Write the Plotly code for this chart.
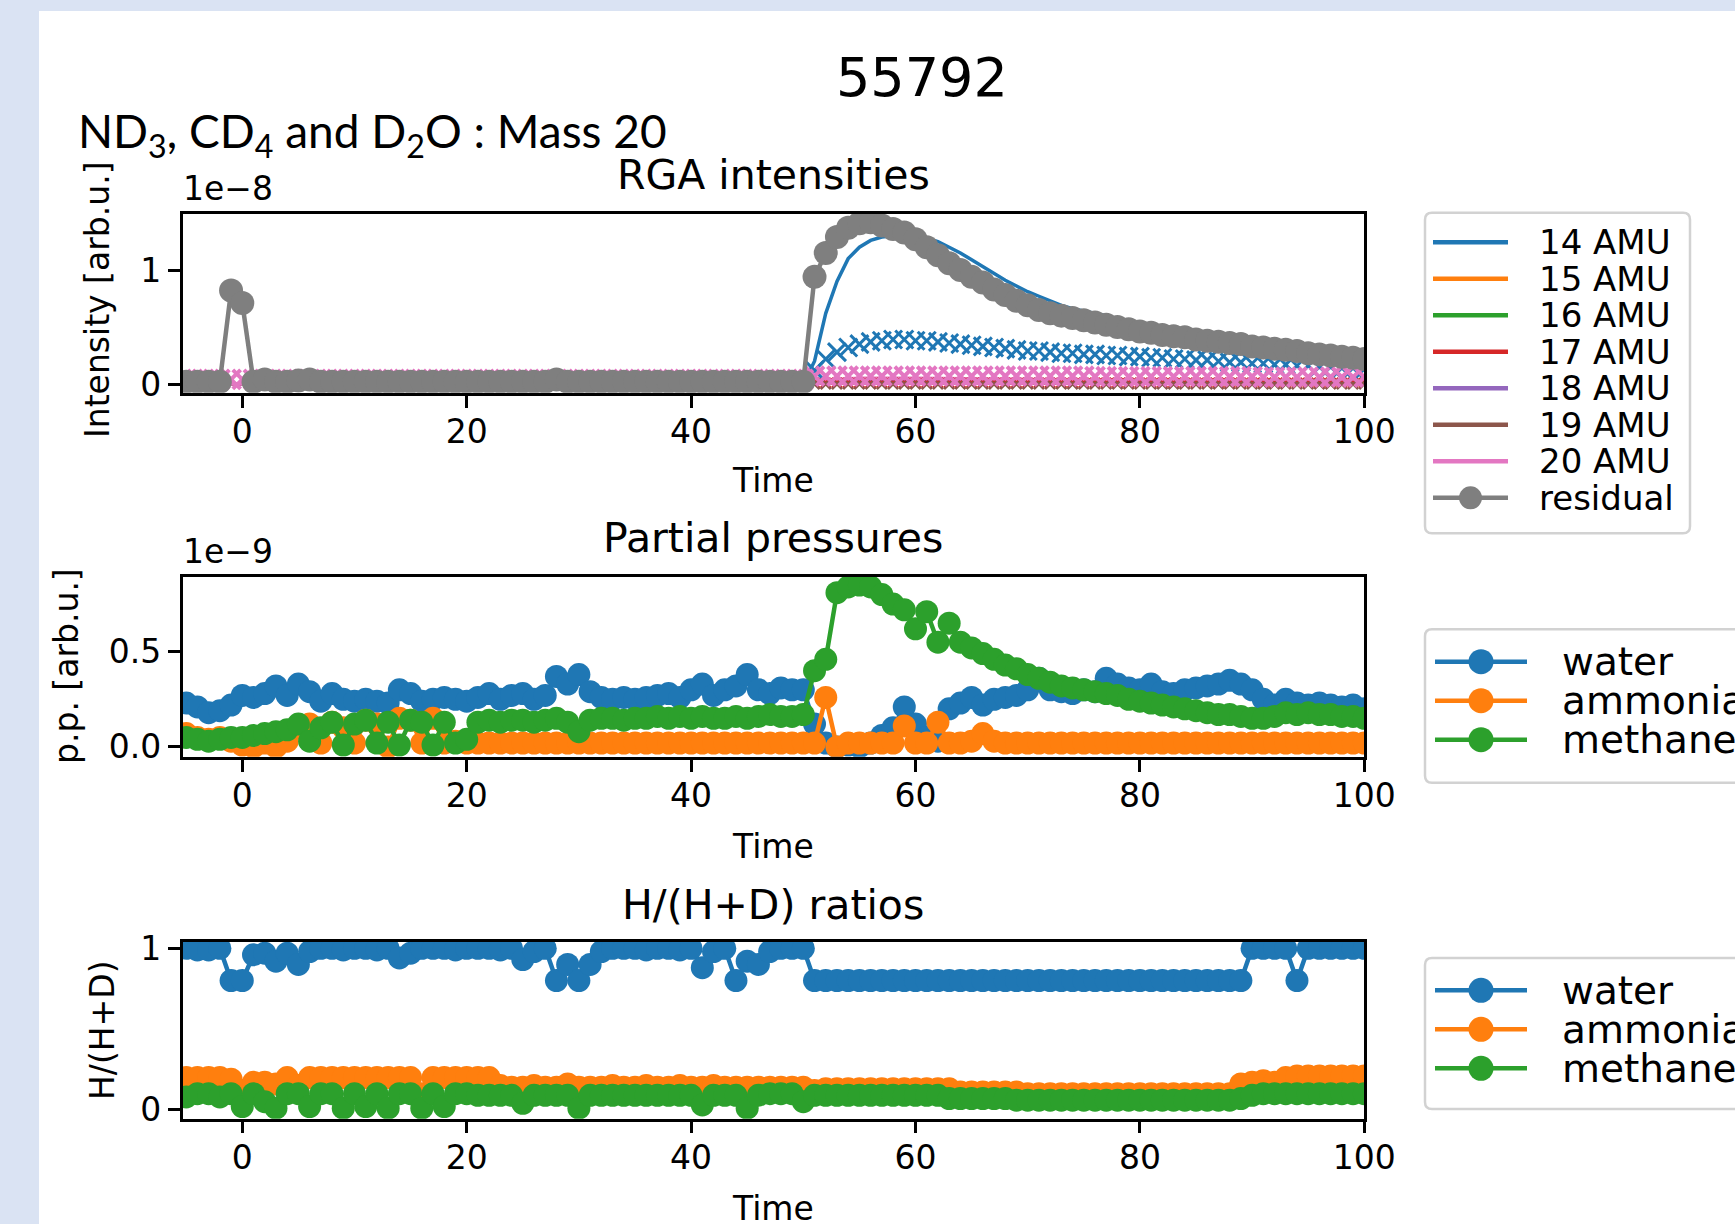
import plotly.graph_objects as go

# ---------------- data ----------------
TIME = list(range(-5, 101))          # time axis, 106 samples
TIME_SHOT = list(range(51, 101))     # samples after gas injection
LINE_T = [-5, 50, 51, 55, 60, 70, 80, 90, 100]

# RGA intensities (units of 1e-8)
RESIDUAL = [0.02, 0.02, 0.02, 0.02, 0.82, 0.71, 0.02, 0.04, 0.02, 0.02,
            0.03, 0.04, 0.02, 0.02, 0.02, 0.02, 0.02, 0.02, 0.02, 0.02,
            0.02, 0.02, 0.02, 0.02, 0.02, 0.02, 0.02, 0.02, 0.02, 0.02,
            0.02, 0.02, 0.02, 0.04, 0.02, 0.02, 0.02, 0.02, 0.02, 0.02,
            0.02, 0.02, 0.02, 0.02, 0.02, 0.02, 0.02, 0.02, 0.02, 0.02,
            0.02, 0.02, 0.02, 0.02, 0.02, 0.02, 0.94, 1.15, 1.29, 1.37,
            1.41, 1.42, 1.39, 1.36, 1.33, 1.27, 1.20, 1.13, 1.06, 1.00,
            0.94, 0.89, 0.83, 0.78, 0.73, 0.69, 0.65, 0.62, 0.60, 0.58,
            0.56, 0.54, 0.52, 0.50, 0.48, 0.46, 0.45, 0.43, 0.42, 0.41,
            0.39, 0.38, 0.37, 0.36, 0.35, 0.33, 0.32, 0.31, 0.30, 0.29,
            0.27, 0.26, 0.25, 0.24, 0.23, 0.22]
AMU14_LINE = [0.0] * 50 + [
            0.0, 0.0, 0.0, 0.0, 0.0, 0.0, 0.20, 0.62, 0.90, 1.10,
            1.20, 1.26, 1.29, 1.30, 1.30, 1.30, 1.28, 1.25, 1.20, 1.15,
            1.09, 1.03, 0.97, 0.91, 0.86, 0.81, 0.77, 0.73, 0.69, 0.66,
            0.64, 0.62, 0.60, 0.57, 0.54, 0.51, 0.48, 0.46, 0.44, 0.42,
            0.40, 0.38, 0.36, 0.35, 0.34, 0.32, 0.31, 0.30, 0.29, 0.28,
            0.26, 0.25, 0.24, 0.23, 0.22, 0.21]
AMU14_MEAS = [0.12, 0.22, 0.28, 0.32, 0.35, 0.37, 0.38, 0.39, 0.39, 0.38,
              0.38, 0.37, 0.36, 0.35, 0.34, 0.33, 0.32, 0.31, 0.30, 0.29,
              0.29, 0.28, 0.27, 0.27, 0.26, 0.26, 0.25, 0.25, 0.24, 0.24,
              0.23, 0.23, 0.22, 0.22, 0.21, 0.21, 0.20, 0.19, 0.19, 0.18,
              0.18, 0.17, 0.17, 0.16, 0.16, 0.15, 0.15, 0.14, 0.14, 0.13]
AMU20_MEAS = [0.04] * 56 + [0.07] * 25 + [0.065] * 15 + [0.06] * 10
AMU17_MEAS = [0.01] * 50
AMU19_MEAS = [0.0] * 50
AMU15_LINE = [0.0, 0.0, 0.01, 0.02, 0.02, 0.02, 0.01, 0.01, 0.01]
AMU16_LINE = [0.0, 0.0, 0.02, 0.03, 0.03, 0.02, 0.02, 0.01, 0.01]
AMU17_LINE = [0.0, 0.0, 0.01, 0.02, 0.02, 0.01, 0.01, 0.01, 0.01]
AMU18_LINE = [0.0, 0.0, 0.02, 0.03, 0.03, 0.02, 0.02, 0.02, 0.01]
AMU19_LINE = [0.0, 0.0, 0.01, 0.01, 0.01, 0.01, 0.01, 0.0, 0.0]
AMU20_LINE = [0.0, 0.0, 0.03, 0.05, 0.05, 0.04, 0.03, 0.03, 0.02]

# Partial pressures (units of 1e-9)
WATER_PP = [0.23, 0.21, 0.18, 0.19, 0.22, 0.27, 0.26, 0.28, 0.32, 0.27,
            0.33, 0.29, 0.24, 0.28, 0.25, 0.24, 0.25, 0.24, 0.23, 0.30,
            0.28, 0.24, 0.25, 0.26, 0.25, 0.24, 0.26, 0.28, 0.25, 0.27,
            0.28, 0.25, 0.27, 0.37, 0.33, 0.38, 0.29, 0.26, 0.25, 0.26,
            0.25, 0.26, 0.27, 0.28, 0.26, 0.30, 0.33, 0.27, 0.30, 0.32,
            0.38, 0.30, 0.28, 0.31, 0.30, 0.30, 0.12, 0.02, 0.00, 0.01,
            0.00, 0.02, 0.06, 0.10, 0.21, 0.12, 0.05, 0.03, 0.20, 0.23,
            0.26, 0.22, 0.25, 0.26, 0.27, 0.30, 0.36, 0.30, 0.29, 0.28,
            0.30, 0.29, 0.36, 0.33, 0.31, 0.30, 0.33, 0.29, 0.28, 0.30,
            0.31, 0.32, 0.33, 0.35, 0.33, 0.30, 0.25, 0.22, 0.25, 0.23,
            0.22, 0.23, 0.22, 0.21, 0.22, 0.20]
AMMONIA_PP = [0.07, 0.05, 0.04, 0.05, 0.03, 0.01, 0.00, 0.02, 0.00, 0.03,
              0.10, 0.12, 0.02, 0.13, 0.10, 0.02, 0.14, 0.12, 0.00, 0.15,
              0.14, 0.02, 0.15, 0.02, 0.03, 0.02, 0.02, 0.02, 0.02, 0.02,
              0.02, 0.02, 0.02, 0.02, 0.02, 0.02, 0.02, 0.02, 0.02, 0.02,
              0.02, 0.02, 0.02, 0.02, 0.02, 0.02, 0.02, 0.02, 0.02, 0.02,
              0.02, 0.02, 0.02, 0.02, 0.02, 0.02, 0.02, 0.26, 0.00, 0.02,
              0.02, 0.02, 0.02, 0.02, 0.11, 0.02, 0.02, 0.13, 0.02, 0.02,
              0.03, 0.07, 0.03, 0.02, 0.02, 0.02, 0.02, 0.02, 0.02, 0.02,
              0.02, 0.02, 0.02, 0.02, 0.02, 0.02, 0.02, 0.02, 0.02, 0.02,
              0.02, 0.02, 0.02, 0.02, 0.02, 0.02, 0.02, 0.02, 0.02, 0.02,
              0.02, 0.02, 0.02, 0.02, 0.02, 0.02]
METHANE_PP = [0.05, 0.04, 0.03, 0.04, 0.05, 0.05, 0.06, 0.07, 0.08, 0.09,
              0.12, 0.03, 0.10, 0.13, 0.01, 0.12, 0.14, 0.02, 0.13, 0.01,
              0.14, 0.13, 0.01, 0.13, 0.02, 0.04, 0.13, 0.14, 0.13, 0.14,
              0.14, 0.13, 0.14, 0.15, 0.13, 0.08, 0.14, 0.15, 0.15, 0.14,
              0.15, 0.15, 0.16, 0.15, 0.16, 0.15, 0.16, 0.15, 0.15, 0.16,
              0.15, 0.16, 0.17, 0.16, 0.16, 0.17, 0.40, 0.46, 0.81, 0.84,
              0.85, 0.84, 0.80, 0.75, 0.72, 0.62, 0.71, 0.55, 0.65, 0.55,
              0.52, 0.49, 0.46, 0.43, 0.41, 0.38, 0.36, 0.34, 0.32, 0.31,
              0.30, 0.29, 0.28, 0.27, 0.25, 0.24, 0.23, 0.22, 0.21, 0.20,
              0.19, 0.18, 0.17, 0.17, 0.16, 0.15, 0.15, 0.16, 0.18, 0.17,
              0.18, 0.17, 0.17, 0.16, 0.16, 0.15]

# H/(H+D) ratios
WATER_HD = [1.0, 0.99, 0.99, 1.0, 0.8, 0.8, 0.96, 0.97, 0.92, 0.97,
            0.9, 0.98, 1.0, 1.0, 0.99, 1.0, 1.0, 0.99, 1.0, 0.94,
            0.97, 1.0, 1.0, 1.0, 0.99, 1.0, 1.0, 1.0, 0.99, 1.0,
            0.93, 0.98, 1.0, 0.8, 0.9, 0.8, 0.9, 0.98, 1.0, 1.0,
            1.0, 0.99, 1.0, 1.0, 0.99, 1.0, 0.88, 0.98, 1.0, 0.8,
            0.92, 0.9, 0.98, 1.0, 1.0, 1.0, 0.8, 0.8, 0.8, 0.8,
            0.8, 0.8, 0.8, 0.8, 0.8, 0.8, 0.8, 0.8, 0.8, 0.8,
            0.8, 0.8, 0.8, 0.8, 0.8, 0.8, 0.8, 0.8, 0.8, 0.8,
            0.8, 0.8, 0.8, 0.8, 0.8, 0.8, 0.8, 0.8, 0.8, 0.8,
            0.8, 0.8, 0.8, 0.8, 0.8, 1.0, 1.0, 1.0, 1.0, 0.8,
            1.0, 1.0, 1.0, 1.0, 1.0, 1.0]
AMMONIA_HD = [0.20, 0.20, 0.20, 0.20, 0.19, 0.12, 0.17, 0.17, 0.16, 0.20,
              0.15, 0.20, 0.20, 0.20, 0.20, 0.20, 0.20, 0.20, 0.20, 0.20,
              0.20, 0.10, 0.20, 0.20, 0.20, 0.20, 0.20, 0.20, 0.15, 0.14,
              0.14, 0.15, 0.14, 0.14, 0.16, 0.14, 0.14, 0.14, 0.15, 0.14,
              0.14, 0.15, 0.14, 0.14, 0.15, 0.14, 0.14, 0.15, 0.14, 0.14,
              0.14, 0.14, 0.14, 0.14, 0.14, 0.14, 0.12, 0.13, 0.13, 0.13,
              0.13, 0.13, 0.13, 0.13, 0.13, 0.13, 0.13, 0.13, 0.13, 0.11,
              0.11, 0.11, 0.11, 0.11, 0.11, 0.10, 0.10, 0.10, 0.10, 0.10,
              0.10, 0.10, 0.10, 0.10, 0.10, 0.10, 0.10, 0.10, 0.10, 0.10,
              0.10, 0.10, 0.10, 0.10, 0.16, 0.17, 0.18, 0.17, 0.20, 0.21,
              0.21, 0.21, 0.21, 0.21, 0.21, 0.21]
METHANE_HD = [0.08, 0.10, 0.10, 0.08, 0.10, 0.02, 0.10, 0.05, 0.01, 0.10,
              0.10, 0.02, 0.10, 0.10, 0.01, 0.10, 0.02, 0.10, 0.01, 0.10,
              0.10, 0.01, 0.10, 0.02, 0.10, 0.10, 0.09, 0.09, 0.09, 0.09,
              0.04, 0.09, 0.09, 0.09, 0.09, 0.01, 0.09, 0.09, 0.09, 0.09,
              0.09, 0.09, 0.09, 0.09, 0.09, 0.09, 0.03, 0.09, 0.09, 0.09,
              0.01, 0.09, 0.10, 0.10, 0.10, 0.05, 0.09, 0.09, 0.09, 0.09,
              0.09, 0.09, 0.09, 0.09, 0.09, 0.09, 0.09, 0.09, 0.07, 0.07,
              0.07, 0.07, 0.07, 0.07, 0.06, 0.06, 0.06, 0.06, 0.06, 0.06,
              0.06, 0.06, 0.06, 0.06, 0.06, 0.06, 0.06, 0.06, 0.06, 0.06,
              0.06, 0.06, 0.06, 0.06, 0.07, 0.09, 0.10, 0.10, 0.10, 0.10,
              0.10, 0.10, 0.10, 0.10, 0.10, 0.10]

AMU_LABELS = ["14 AMU", "15 AMU", "16 AMU", "17 AMU", "18 AMU", "19 AMU", "20 AMU", "residual"]
GAS_LABELS = ["water", "ammonia", "methane"]
X_TICKS = [0, 20, 40, 60, 80, 100]

# ---------------- styling ----------------
W, H = 1735, 1224
BLUE, ORANGE, GREEN, RED = "#1f77b4", "#ff7f0e", "#2ca02c", "#d62728"
PURPLE, BROWN, PINK, GRAY = "#9467bd", "#8c564b", "#e377c2", "#7f7f7f"
AMU_COLORS = [BLUE, ORANGE, GREEN, RED, PURPLE, BROWN, PINK, GRAY]
GAS_COLORS = [BLUE, ORANGE, GREEN]
FONT = "DejaVu Sans"


def fx(p):
    return p / W


def fy(p):
    return 1 - p / H


X_L, X_R = 182.6, 1364.3
PANELS = [(213.6, 392.8), (576.5, 756.8), (941.6, 1118.7)]
MS = 23
LW = 4.5

fig = go.Figure()

# panel 1 lines
line_sets = [(TIME, AMU14_LINE), (LINE_T, AMU15_LINE), (LINE_T, AMU16_LINE), (LINE_T, AMU17_LINE),
             (LINE_T, AMU18_LINE), (LINE_T, AMU19_LINE), (LINE_T, AMU20_LINE)]
for (tx, ty), c in zip(line_sets, AMU_COLORS[:7]):
    fig.add_trace(go.Scatter(x=tx, y=ty, mode="lines", line=dict(color=c, width=3.5),
                             xaxis="x", yaxis="y", showlegend=False))
for ty, c, s, w in [(AMU17_MEAS, RED, 10, 2.5), (AMU19_MEAS, BROWN, 10, 2.5), (AMU14_MEAS, BLUE, 18, 3)]:
    fig.add_trace(go.Scatter(x=TIME_SHOT, y=ty, mode="markers",
                             marker=dict(symbol="x-thin", size=s, color=c, line=dict(width=w, color=c)),
                             xaxis="x", yaxis="y", showlegend=False))
fig.add_trace(go.Scatter(x=TIME, y=AMU20_MEAS, mode="markers",
                         marker=dict(symbol="x-thin", size=19, color=PINK, line=dict(width=4, color=PINK)),
                         xaxis="x", yaxis="y", showlegend=False))
fig.add_trace(go.Scatter(x=TIME, y=RESIDUAL, mode="lines+markers",
                         line=dict(color=GRAY, width=LW), marker=dict(size=24, color=GRAY),
                         xaxis="x", yaxis="y", showlegend=False))

for ys, ax in [((WATER_PP, AMMONIA_PP, METHANE_PP), "2"), ((WATER_HD, AMMONIA_HD, METHANE_HD), "3")]:
    for ty, c in zip(ys, GAS_COLORS):
        fig.add_trace(go.Scatter(x=TIME, y=ty, mode="lines+markers",
                                 line=dict(color=c, width=LW), marker=dict(size=MS, color=c),
                                 xaxis="x" + ax, yaxis="y" + ax, showlegend=False))

axis_common = dict(showline=True, linecolor="black", linewidth=2.5, mirror=True,
                   ticks="outside", ticklen=12, tickwidth=2.5, tickcolor="black",
                   showgrid=False, zeroline=False,
                   tickfont=dict(family=FONT, size=33, color="black"))
yranges = [[-0.077, 1.495], [-0.052, 0.895], [-0.055, 1.0415]]
yticks = [([0, 1], ["0", "1"]), ([0, 0.5], ["0.0", "0.5"]), ([0, 1], ["0", "1"])]
layout_axes = {}
for i, ((top, bot), yr, (tv, tt)) in enumerate(zip(PANELS, yranges, yticks)):
    sfx = "" if i == 0 else str(i + 1)
    layout_axes["xaxis" + sfx] = dict(axis_common, domain=[fx(X_L), fx(X_R)], range=[-5.32, 100],
                                      tickvals=X_TICKS, anchor="y" + sfx, ticklabelstandoff=-4)
    layout_axes["yaxis" + sfx] = dict(axis_common, domain=[fy(bot), fy(top)], range=yr,
                                      tickvals=tv, ticktext=tt, anchor="x" + sfx)
fig.update_layout(**layout_axes)

ann = []


def text(x, y, s, size, xanchor="center", angle=0, family=FONT, yanchor="middle"):
    ann.append(dict(x=fx(x), y=fy(y), xref="paper", yref="paper", text=s, showarrow=False,
                    xanchor=xanchor, yanchor=yanchor, textangle=angle,
                    font=dict(family=family, size=size, color="black")))


cx = (X_L + X_R) / 2
text(922, 77, "55792", 54)
text(76, 134, "ND<sub>3</sub>, CD<sub>4</sub> and D<sub>2</sub>O : Mass 20", 46, xanchor="left",
     family="Lato, Carlito, Liberation Sans Narrow, sans-serif")
text(cx, 175, "RGA intensities", 41)
text(cx, 538, "Partial pressures", 41)
text(cx, 905, "H/(H+D) ratios", 41)
text(X_L - 2, 188, "1e\u22128", 33, xanchor="left")
text(X_L - 2, 552, "1e\u22129", 33, xanchor="left")
for yy in (481, 846.5, 1208):
    text(cx, yy, "Time", 33)
text(97, 300, "Intensity [arb.u.]", 33, angle=-90)
text(66, 666, "p.p. [arb.u.]", 33, angle=-90)
text(102, 1030, "H/(H+D)", 33, angle=-90)

shapes = []
# slide frame
shapes.append(dict(type="rect", xref="paper", yref="paper", x0=fx(39), x1=fx(W + 5), y0=fy(11), y1=fy(H + 5),
                   fillcolor="white", line=dict(width=0), layer="below"))


def rrect(x0, y0, x1, y1, r=7):
    pts = (f"M {fx(x0 + r)} {fy(y0)} L {fx(x1 - r)} {fy(y0)} Q {fx(x1)} {fy(y0)} {fx(x1)} {fy(y0 + r)} "
           f"L {fx(x1)} {fy(y1 - r)} Q {fx(x1)} {fy(y1)} {fx(x1 - r)} {fy(y1)} "
           f"L {fx(x0 + r)} {fy(y1)} Q {fx(x0)} {fy(y1)} {fx(x0)} {fy(y1 - r)} "
           f"L {fx(x0)} {fy(y0 + r)} Q {fx(x0)} {fy(y0)} {fx(x0 + r)} {fy(y0)} Z")
    shapes.append(dict(type="path", xref="paper", yref="paper", path=pts, fillcolor="white",
                       line=dict(color="#d2d2d2", width=2.5), layer="above"))


def legend_item(y, color, label, lx0, lx1, tx, size, marker=None):
    shapes.append(dict(type="line", xref="paper", yref="paper", x0=fx(lx0), x1=fx(lx1), y0=fy(y), y1=fy(y),
                       line=dict(color=color, width=LW), layer="above"))
    if marker:
        mx = (lx0 + lx1) / 2
        shapes.append(dict(type="circle", xref="paper", yref="paper", x0=fx(mx - marker / 2), x1=fx(mx + marker / 2),
                           y0=fy(y + marker / 2), y1=fy(y - marker / 2), fillcolor=color, line=dict(width=0),
                           layer="above"))
    text(tx, y, label, size, xanchor="left")


rrect(1425, 212.7, 1690, 533.3)
for k, (lab, c) in enumerate(zip(AMU_LABELS, AMU_COLORS)):
    legend_item(242.3 + 36.5 * k, c, lab, 1433, 1508, 1537, 34, marker=23 if lab == "residual" else None)

for top, bot, first in [(629.3, 782.7, 661.7), (958.0, 1109.0, 990.3)]:
    rrect(1425, top, 1800, bot)
    for k, (lab, c) in enumerate(zip(GAS_LABELS, GAS_COLORS)):
        legend_item(first + 39 * k, c, lab, 1435, 1527, 1560, 39, marker=25)

fig.update_layout(width=W, height=H, margin=dict(l=0, r=0, t=0, b=0, autoexpand=False),
                  paper_bgcolor="#dae3f3", plot_bgcolor="white", showlegend=False,
                  annotations=ann, shapes=shapes)

fig.write_html("out.html", config={"displayModeBar": False},
               post_script="document.body.style.margin='0px';document.body.style.overflow='hidden';")
